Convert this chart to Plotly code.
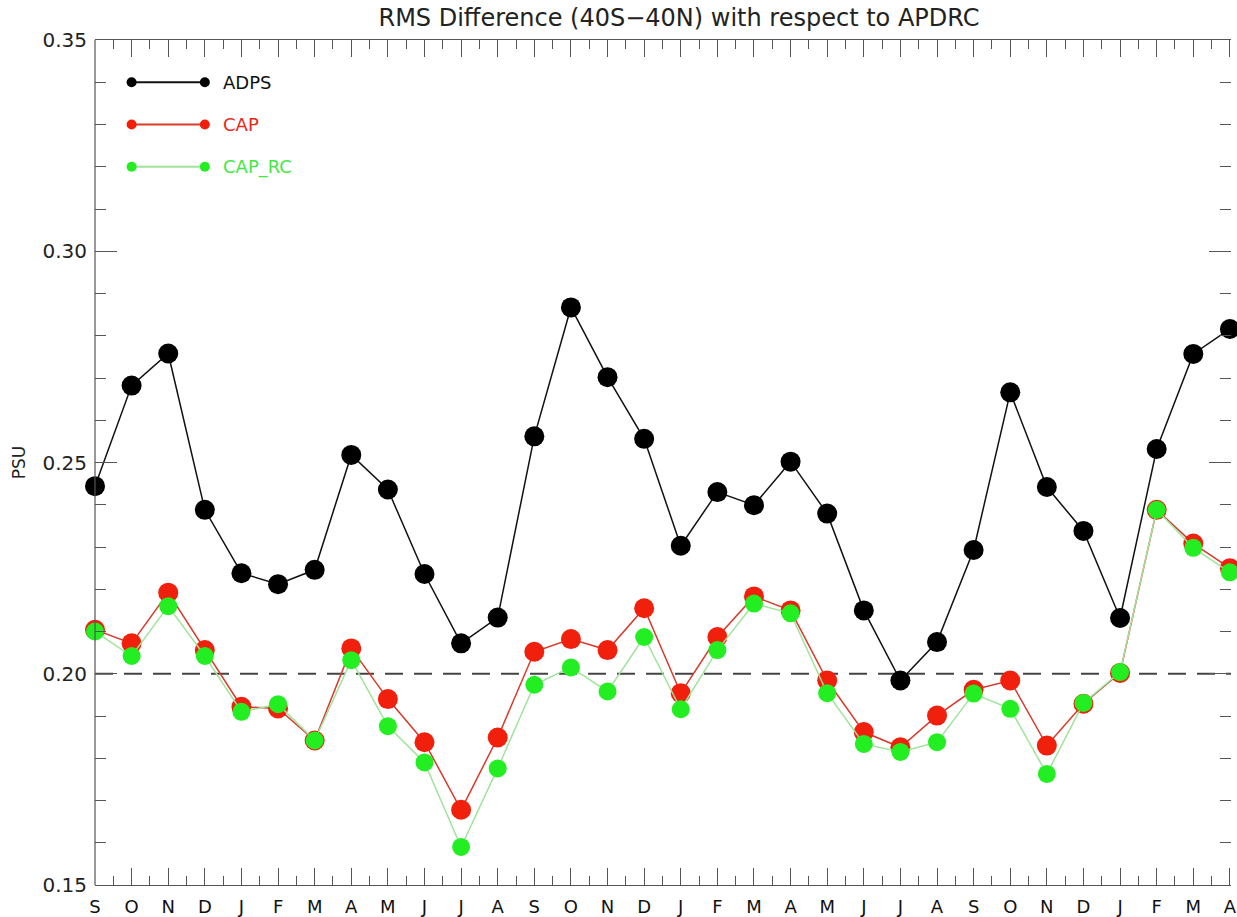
import plotly.graph_objects as go

# Monthly RMS salinity differences (PSU), Sep through the following-but-one Apr
months = ["S", "O", "N", "D", "J", "F", "M", "A", "M", "J", "J", "A",
          "S", "O", "N", "D", "J", "F", "M", "A", "M", "J", "J", "A",
          "S", "O", "N", "D", "J", "F", "M", "A"]

adps = [0.2444, 0.2682, 0.2758, 0.2388, 0.2238, 0.2212, 0.2246, 0.2518,
        0.2436, 0.2236, 0.2072, 0.2133, 0.2562, 0.2867, 0.2702, 0.2556,
        0.2303, 0.2430, 0.2399, 0.2502, 0.2379, 0.2150, 0.1984, 0.2075,
        0.2293, 0.2666, 0.2442, 0.2338, 0.2132, 0.2532, 0.2757, 0.2816]

cap = [0.2104, 0.2072, 0.2192, 0.2056, 0.1922, 0.1918, 0.1842, 0.2060,
       0.1940, 0.1838, 0.1678, 0.1849, 0.2052, 0.2082, 0.2056, 0.2155,
       0.1954, 0.2087, 0.2183, 0.2150, 0.1984, 0.1862, 0.1826, 0.1901,
       0.1962, 0.1984, 0.1830, 0.1929, 0.2002, 0.2388, 0.2308, 0.2250]

cap_rc = [0.2100, 0.2042, 0.2160, 0.2042, 0.1910, 0.1928, 0.1842, 0.2032,
          0.1876, 0.1790, 0.1590, 0.1776, 0.1974, 0.2015, 0.1958, 0.2087,
          0.1916, 0.2056, 0.2166, 0.2143, 0.1954, 0.1834, 0.1815, 0.1838,
          0.1953, 0.1917, 0.1763, 0.1931, 0.2004, 0.2388, 0.2298, 0.2240]

reference_level = 0.20

series_names = ["ADPS", "CAP", "CAP_RC"]
line_colors = ["#111111", "#d83a2c", "#9fe49a"]
marker_colors = ["#000000", "#f0200c", "#22ee22"]
label_colors = ["#111111", "#e8281a", "#44e844"]
marker_sizes = [20, 20, 18]

# legend keys drawn inside the plot in data units
legend_x = [1, 3]
legend_y = [0.340, 0.330, 0.320]
legend_text_x = 3.45

FONT = "DejaVu Sans, Liberation Sans, sans-serif"

x = list(range(len(months)))
fig = go.Figure()

# dashed reference line at 0.20 PSU
fig.add_shape(type="line", xref="paper", x0=0, x1=1, yref="y",
              y0=reference_level, y1=reference_level,
              line=dict(color="#444444", width=2, dash="18px,11px"), layer="below")

for name, vals, lc, mc, ms in zip(series_names, [adps, cap, cap_rc],
                                  line_colors, marker_colors, marker_sizes):
    fig.add_trace(go.Scatter(
        x=x, y=vals, mode="lines+markers", name=name, showlegend=False,
        line=dict(color=lc, width=1.5),
        marker=dict(color=mc, size=ms, line=dict(width=0)),
        cliponaxis=False,
    ))

for name, ly, lc, mc, tc in zip(series_names, legend_y, line_colors,
                                marker_colors, label_colors):
    fig.add_trace(go.Scatter(
        x=legend_x, y=[ly, ly], mode="lines+markers", showlegend=False,
        line=dict(color=lc, width=1.8),
        marker=dict(color=mc, size=10), hoverinfo="skip",
    ))
    fig.add_annotation(x=legend_text_x, y=ly, xref="x", yref="y", text=name,
                       showarrow=False, xanchor="left", yanchor="middle",
                       font=dict(family=FONT, size=18, color=tc))

# left axis line (right side carries ticks only)
fig.add_shape(type="line", xref="paper", yref="paper", x0=0, x1=0, y0=0, y1=1,
              line=dict(color="#555555", width=1.2))

fig.update_layout(
    width=1237, height=917,
    margin=dict(l=95, r=0, t=40, b=32),
    paper_bgcolor="white", plot_bgcolor="white",
    font=dict(family=FONT, color="#222222"),
    title=dict(text="RMS Difference (40S\u221240N) with respect to APDRC",
               x=679 / 1237, xanchor="center", y=1 - 18 / 917, yanchor="middle",
               font=dict(family=FONT, size=24, color="#222222")),
    xaxis=dict(
        range=[0, 31.03], tickmode="array", tickvals=x, ticktext=months,
        ticks="inside", ticklen=17, tickwidth=1.2, tickcolor="#555555",
        showline=True, linecolor="#555555", linewidth=1.2, mirror="ticks",
        showgrid=False, zeroline=False,
        tickfont=dict(family=FONT, size=18, color="#111111"),
        ticklabelstandoff=5, ticklabeloverflow="allow",
        minor=dict(dtick=0.5, tick0=0, ticks="inside", ticklen=9,
                   tickwidth=1.2, tickcolor="#555555", showgrid=False),
    ),
    yaxis=dict(
        range=[0.15, 0.35], dtick=0.05, tick0=0.15, tickformat=".2f",
        ticks="inside", ticklen=22, tickwidth=1.2, tickcolor="#555555",
        showline=False, mirror="ticks",
        showgrid=False, zeroline=False,
        tickfont=dict(family=FONT, size=20, color="#222222"),
        ticklabelstandoff=7,
        title=dict(text="PSU", font=dict(family=FONT, size=17, color="#222222"),
                   standoff=12),
        minor=dict(dtick=0.01, tick0=0.15, ticks="inside", ticklen=11,
                   tickwidth=1.2, tickcolor="#555555", showgrid=False),
    ),
)

fig.write_html("out.html")
